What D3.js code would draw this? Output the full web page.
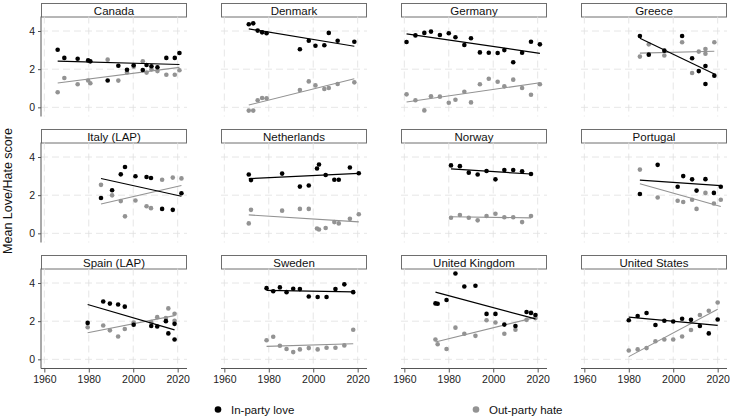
<!DOCTYPE html>
<html><head><meta charset="utf-8">
<script src="https://cdn.jsdelivr.net/npm/d3@7"></script>
<style>body{margin:0;background:#fff} svg{display:block;font-family:"Liberation Sans",Arial,Helvetica,sans-serif}</style>
</head><body><svg id="c" width="730" height="420"></svg>
<script>
// ---- data ----
const countries = ["Canada","Denmark","Germany","Greece","Italy (LAP)","Netherlands","Norway","Portugal","Spain (LAP)","Sweden","United Kingdom","United States"];

const canadaYears = [1966,1969,1975,1979.7,1980.7,1988.5,1993.3,1997.2,2000.2,2004.3,2006,2008.2,2010.9,2014.9,2018.7,2020.8];
const canadaIn    = [3.02,2.59,2.55,2.46,2.41,1.41,2.18,1.97,2.20,1.96,2.22,2.15,2.10,2.59,2.59,2.85];
const canadaOut   = [0.79,1.54,1.21,1.41,1.26,2.50,1.40,1.83,2.13,2.41,1.82,1.99,1.90,1.71,1.71,1.94];

const denmarkYears = [1971,1973,1975,1977,1979,1994,1998,2001,2005,2007,2011,2018.5];
const denmarkIn    = [4.35,4.40,4.02,3.93,3.88,3.04,3.49,3.23,3.25,3.90,3.49,3.44];
const denmarkOut   = [-0.17,-0.17,0.37,0.49,0.47,0.91,1.36,1.15,0.96,1.01,1.22,1.31];

const germanyYears = [1961,1965,1969,1972,1976,1980,1983,1987,1990,1994,1998,2002,2005,2009,2013,2017,2021];
const germanyIn    = [3.42,3.77,3.90,3.97,3.79,3.88,3.67,3.27,3.62,2.88,2.86,2.85,3.00,2.36,2.86,3.44,3.30];
const germanyOut   = [0.68,0.37,-0.16,0.58,0.56,0.24,0.40,0.82,0.26,1.21,1.50,1.34,1.10,1.45,1.01,0.66,1.21];

const greeceYears = [1985,1989,1996,2004,2008.5,2011.5,2014.5,2014.5,2018.5];
const greeceIn    = [3.74,2.76,2.97,3.74,2.57,1.90,2.17,1.22,1.66];
const greeceOut   = [2.66,3.30,2.72,3.41,1.80,2.92,3.06,2.81,3.41];

const italyYears = [1985.5,1990.5,1994.4,1996.3,2001,2006,2008,2013,2017.8,2021.7];
const italyIn    = [1.85,2.26,3.09,3.48,2.99,2.95,2.90,1.28,1.23,2.10];
const italyOut   = [2.54,1.99,1.69,0.89,1.72,1.42,1.32,2.81,2.92,2.88];

const netherlandsYears = [1971,1972,1986,1994,1998,2001.7,2002.6,2005.6,2009.5,2011.5,2016.5,2020.5];
const netherlandsIn    = [3.08,2.79,3.13,2.45,2.51,3.40,3.61,3.06,2.81,2.81,3.45,3.15];
const netherlandsOut   = [0.52,1.23,1.19,1.28,1.28,0.25,0.20,0.28,0.59,0.52,0.76,1.00];

const norwayYears = [1981,1985,1989,1993,1997,2001,2005,2009,2013,2017];
const norwayIn    = [3.56,3.52,3.18,3.08,3.27,2.83,3.32,3.32,3.25,3.11];
const norwayOut   = [0.82,0.96,0.82,0.68,0.91,1.03,0.84,0.84,0.59,0.91];

const portugalYears = [1985,1993,2002,2004.5,2008.5,2010.5,2014.5,2018.3,2021.4];
const portugalIn    = [2.06,3.59,2.44,3.00,2.83,2.24,2.84,2.12,2.44];
const portugalOut   = [3.34,1.88,1.71,1.64,1.76,1.28,2.12,1.56,1.76];

const spainYears = [1979.5,1986.5,1989.5,1993.2,1996.2,2000.2,2008.1,2010.8,2014.7,2015.8,2018.6,2018.6];
const spainIn    = [1.91,3.03,2.92,2.87,2.76,1.81,1.75,1.72,2.00,1.36,1.86,1.04];
const spainOut   = [1.68,1.77,1.52,1.20,1.59,1.93,1.95,2.21,2.16,2.67,2.39,2.02];

const swedenYears = [1979,1982,1985,1988,1991,1994,1998,2002,2006,2010,2014,2018];
const swedenIn    = [3.73,3.57,3.77,3.52,3.70,3.68,3.29,3.27,3.27,3.68,3.93,3.52];
const swedenOut   = [1.00,1.18,0.71,0.54,0.38,0.52,0.59,0.52,0.61,0.61,0.73,1.55];

const ukYears = [1974,1975,1979,1983,1987,1992,1997,2001,2005,2010,2015,2017,2019];
const ukIn    = [2.93,2.91,3.11,4.50,3.82,3.86,2.38,2.38,1.82,1.75,2.48,2.43,2.32];
const ukOut   = [1.04,0.79,0.54,1.66,1.34,1.23,2.05,1.93,1.34,1.55,2.07,2.45,2.16];

const usYears = [1980,1984,1988,1992,1996,2000,2004,2008,2012,2016,2020];
const usIn    = [2.05,2.27,2.43,1.80,2.02,1.98,2.13,2.07,1.75,1.36,2.09];
const usOut   = [0.46,0.52,0.59,0.95,1.04,1.04,1.20,1.54,2.32,2.55,2.98];

const xTicks = [1960,1980,2000,2020];
const yTicks = [0,2,4];
const seriesNames = ["In-party love","Out-party hate"];

const panelYears = [canadaYears,denmarkYears,germanyYears,greeceYears,italyYears,netherlandsYears,norwayYears,portugalYears,spainYears,swedenYears,ukYears,usYears];
const panelIn  = [canadaIn,denmarkIn,germanyIn,greeceIn,italyIn,netherlandsIn,norwayIn,portugalIn,spainIn,swedenIn,ukIn,usIn];
const panelOut = [canadaOut,denmarkOut,germanyOut,greeceOut,italyOut,netherlandsOut,norwayOut,portugalOut,spainOut,swedenOut,ukOut,usOut];

// ---- drawing ----
const svg = d3.select("#c");
const colIn = "#000000", colOut = "#939393";
const W = 146, colStep = 180, rowStep = 126, left0 = 41, top0 = 3, stripH = 13.5, plotH = 100;

const x = d3.scaleLinear().domain([1958.5, 2024.2]).range([0, W]);
const y = d3.scaleLinear().domain([-0.48, 4.76]).range([plotH, 0]);

function fit(xs, ys) {
  const mx = d3.mean(xs), my = d3.mean(ys);
  let sxy = 0, sxx = 0;
  xs.forEach((v, i) => { sxy += (v - mx) * (ys[i] - my); sxx += (v - mx) * (v - mx); });
  const b = sxy / sxx, a = my - b * mx;
  const x0 = d3.min(xs), x1 = d3.max(xs);
  return [[x0, a + b * x0], [x1, a + b * x1]];
}

countries.forEach((name, i) => {
  const c = i % 4, r = Math.floor(i / 4);
  const gx = left0 + c * colStep, gy = top0 + r * rowStep;
  const g = svg.append("g").attr("transform", `translate(${gx},${gy})`);
  // strip
  g.append("rect").attr("x", 0.5).attr("y", 0.5).attr("width", W - 1).attr("height", stripH)
    .attr("fill", "#fff").attr("stroke", "#6e6e6e").attr("stroke-width", 1);
  g.append("text").attr("x", W / 2).attr("y", stripH / 2 + 1).attr("dy", "0.35em")
    .attr("text-anchor", "middle").attr("font-size", 11.5).attr("fill", "#111").text(name);

  const p = g.append("g").attr("transform", `translate(0,${stripH})`);
  // grid
  p.selectAll(".gy").data(yTicks).join("line")
    .attr("x1", 0).attr("x2", W).attr("y1", d => y(d)).attr("y2", d => y(d))
    .attr("stroke", "#e0e0e0").attr("stroke-width", 0.8).attr("stroke-dasharray", "7,4");
  p.selectAll(".gx").data(xTicks).join("line")
    .attr("y1", 0).attr("y2", plotH).attr("x1", d => x(d)).attr("x2", d => x(d))
    .attr("stroke", "#e0e0e0").attr("stroke-width", 0.8).attr("stroke-dasharray", "7,4");

  // axes
  if (c === 0) {
    const ya = p.append("g").call(d3.axisLeft(y).tickValues(yTicks).tickSize(3).tickPadding(3).tickFormat(d3.format("d")));
    ya.select(".domain").attr("stroke", "#555").attr("d", `M0,0V${plotH}`);
    ya.selectAll(".tick line").attr("stroke", "#555");
    ya.selectAll("text").attr("font-size", 10.5).attr("fill", "#222").style("font-family", "inherit");
  }
  if (r === 2) {
    const xa = p.append("g").attr("transform", `translate(0,${plotH})`)
      .call(d3.axisBottom(x).tickValues(xTicks).tickSize(4).tickPadding(3).tickFormat(d3.format("d")));
    xa.select(".domain").attr("stroke", "#555").attr("d", `M0,0H${W}`);
    xa.selectAll(".tick line").attr("stroke", "#555");
    xa.selectAll("text").attr("font-size", 10.5).attr("fill", "#222").style("font-family", "inherit");
  }

  const yrs = panelYears[i];
  const line = d3.line().x(d => x(d[0])).y(d => y(d[1]));
  // out-party
  p.selectAll(".po").data(yrs.map((v, k) => [v, panelOut[i][k]])).join("circle")
    .attr("cx", d => x(d[0])).attr("cy", d => y(d[1])).attr("r", 2.3).attr("fill", colOut);
  p.append("path").attr("d", line(fit(yrs, panelOut[i]))).attr("stroke", colOut).attr("stroke-width", 1.1).attr("fill", "none");
  // in-party
  p.selectAll(".pi").data(yrs.map((v, k) => [v, panelIn[i][k]])).join("circle")
    .attr("cx", d => x(d[0])).attr("cy", d => y(d[1])).attr("r", 2.3).attr("fill", colIn);
  p.append("path").attr("d", line(fit(yrs, panelIn[i]))).attr("stroke", colIn).attr("stroke-width", 1.2).attr("fill", "none");
});

// y title
svg.append("text").attr("transform", "translate(12,191) rotate(-90)")
  .attr("text-anchor", "middle").attr("font-size", 12.5).attr("fill", "#111").text("Mean Love/Hate score");

// legend
const legX = [218, 476];
seriesNames.forEach((s, k) => {
  svg.append("circle").attr("cx", legX[k]).attr("cy", 409.5).attr("r", 3.3).attr("fill", k === 0 ? colIn : colOut);
  svg.append("text").attr("x", legX[k] + 13).attr("y", 409.5).attr("dy", "0.35em")
    .attr("font-size", 11.5).attr("fill", "#111").text(s);
});
</script></body></html>
